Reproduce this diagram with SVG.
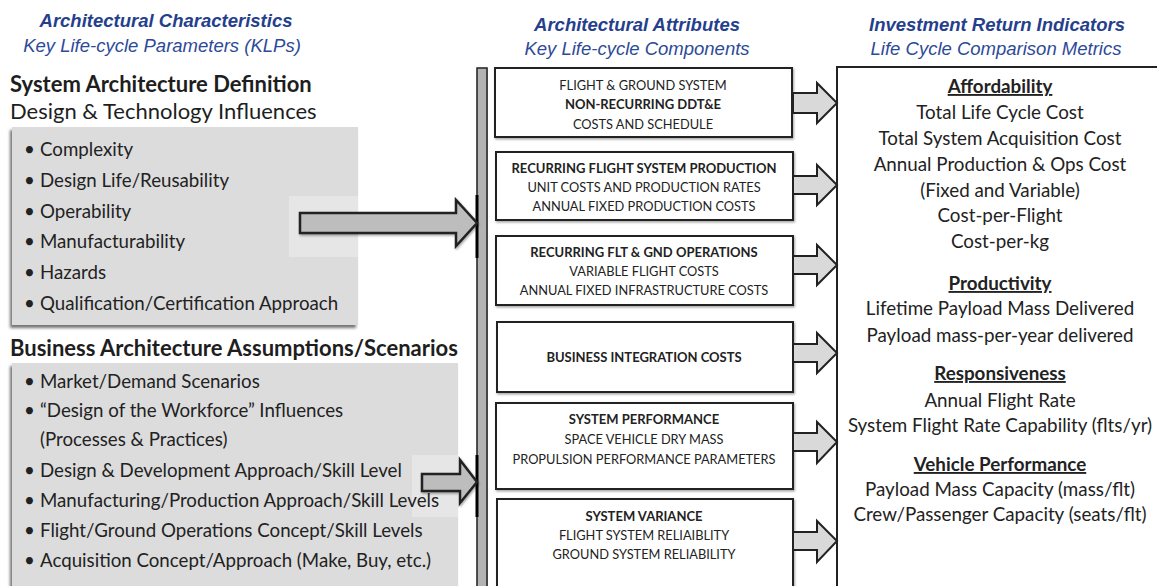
<svg xmlns="http://www.w3.org/2000/svg" width="1157" height="586" viewBox="0 0 1157 586">
<style>
.hb{font-family:"Liberation Sans",Arial,sans-serif;font-size:18.5px;font-weight:bold;font-style:italic;fill:#253f8c;text-anchor:middle}
.hi{font-family:"Liberation Sans",Arial,sans-serif;font-size:18.5px;font-style:italic;fill:#2d4a98;text-anchor:middle}
.sec{font-family:Lato,"Open Sans",sans-serif;font-size:22px;font-weight:bold;fill:#1e1e1e}
.sub{font-family:Lato,"Open Sans",sans-serif;font-size:22px;fill:#1e1e1e}
.bl{font-family:Lato,"Open Sans",sans-serif;font-size:18.7px;fill:#222}
.bx{font-family:Lato,"Open Sans",sans-serif;font-size:12.8px;fill:#222;text-anchor:middle}
.bxb{font-family:Lato,"Open Sans",sans-serif;font-size:13px;font-weight:bold;fill:#222;text-anchor:middle}
.rt{font-family:Lato,"Open Sans",sans-serif;font-size:18.8px;fill:#222;text-anchor:middle}
.rh{font-family:Lato,"Open Sans",sans-serif;font-size:18.8px;font-weight:bold;fill:#222;text-anchor:middle;text-decoration:underline}
.gbox{fill:#dcdcdd}
.node{fill:#fff;stroke:#222;stroke-width:2}
.sarr{fill:#d9d9da;stroke:#222;stroke-width:2;stroke-linejoin:miter}
.barr{fill:#bdbdbe;stroke:#222;stroke-width:2.5;stroke-linejoin:miter}
</style>
<defs>
<filter id="shl" x="-10%" y="-10%" width="120%" height="120%">
<feDropShadow dx="-2" dy="3" stdDeviation="1.5" flood-color="#000" flood-opacity="0.55"/>
</filter>
<filter id="shs" x="-10%" y="-10%" width="120%" height="120%">
<feDropShadow dx="1" dy="1.5" stdDeviation="1" flood-color="#000" flood-opacity="0.35"/>
</filter>
</defs>
<rect width="1157" height="586" fill="#fff"/>

<g id="col1-header">
<text class="hb" x="166" y="27">Architectural Characteristics</text>
<text class="hi" x="162" y="52">Key Life-cycle Parameters (KLPs)</text>
</g>

<g id="system-architecture">
<text class="sec" x="10" y="92">System Architecture Definition</text>
<text class="sub" x="10" y="119">Design &amp; Technology Influences</text>
<rect class="gbox" x="12" y="127" width="346" height="198" filter="url(#shl)"/>
<rect x="289" y="196" width="69" height="61" fill="#e6e6e7"/>
<g class="bl">
<text x="24" y="156">•</text><text x="40" y="156">Complexity</text>
<text x="24" y="187">•</text><text x="40" y="187">Design Life/Reusability</text>
<text x="24" y="218">•</text><text x="40" y="218">Operability</text>
<text x="24" y="248">•</text><text x="40" y="248">Manufacturability</text>
<text x="24" y="279">•</text><text x="40" y="279">Hazards</text>
<text x="24" y="310">•</text><text x="40" y="310">Qualification/Certification Approach</text>
</g>
</g>

<g id="business-architecture">
<text class="sec" x="10" y="356">Business Architecture Assumptions/Scenarios</text>
<rect class="gbox" x="12" y="363" width="446" height="230" filter="url(#shl)"/>
<rect x="412" y="455" width="46" height="62" fill="#e6e6e7"/>
<g class="bl">
<text x="24" y="388">•</text><text x="40" y="388">Market/Demand Scenarios</text>
<text x="24" y="417">•</text><text x="40" y="417">“Design of the Workforce” Influences</text>
<text x="40" y="446">(Processes &amp; Practices)</text>
<text x="24" y="477">•</text><text x="40" y="477">Design &amp; Development Approach/Skill Level</text>
<text x="24" y="507">•</text><text x="40" y="507">Manufacturing/Production Approach/Skill Levels</text>
<text x="24" y="537">•</text><text x="40" y="537">Flight/Ground Operations Concept/Skill Levels</text>
<text x="24" y="567">•</text><text x="40" y="567">Acquisition Concept/Approach (Make, Buy, etc.)</text>
</g>
</g>

<g id="col2-header">
<text class="hb" x="637" y="31">Architectural Attributes</text>
<text class="hi" x="637" y="55">Key Life-cycle Components</text>
</g>

<g id="col3-header">
<text class="hb" x="997" y="31">Investment Return Indicators</text>
<text class="hi" x="996" y="55">Life Cycle Comparison Metrics</text>
</g>

<g id="integration-bar">
<rect x="477" y="68" width="10" height="530" fill="#b3b3b4" stroke="#222" stroke-width="1.5" filter="url(#shs)"/>
<line x1="477" y1="195" x2="477" y2="258" stroke="#000" stroke-width="3"/>
<line x1="477" y1="455" x2="477" y2="517" stroke="#000" stroke-width="3"/>
</g>

<g id="box-nonrecurring">
<rect class="node" x="495" y="68" width="297" height="69" filter="url(#shs)"/>
<text class="bx" x="643" y="90">FLIGHT &amp; GROUND SYSTEM</text>
<text class="bxb" x="643" y="109">NON-RECURRING DDT&amp;E</text>
<text class="bx" x="643" y="129">COSTS AND SCHEDULE</text>
</g>
<g id="box-production">
<rect class="node" x="496" y="152" width="297" height="68" filter="url(#shs)"/>
<text class="bxb" x="644" y="173">RECURRING FLIGHT SYSTEM PRODUCTION</text>
<text class="bx" x="644" y="192">UNIT COSTS AND PRODUCTION RATES</text>
<text class="bx" x="644" y="211">ANNUAL FIXED PRODUCTION COSTS</text>
</g>
<g id="box-operations">
<rect class="node" x="496" y="236" width="297" height="69" filter="url(#shs)"/>
<text class="bxb" x="644" y="257">RECURRING FLT &amp; GND OPERATIONS</text>
<text class="bx" x="644" y="276">VARIABLE FLIGHT COSTS</text>
<text class="bx" x="644" y="295">ANNUAL FIXED INFRASTRUCTURE COSTS</text>
</g>
<g id="box-business">
<rect class="node" x="497" y="322" width="296" height="70" filter="url(#shs)"/>
<text class="bxb" x="644" y="362">BUSINESS INTEGRATION COSTS</text>
</g>
<g id="box-performance">
<rect class="node" x="496" y="403" width="297" height="86" filter="url(#shs)"/>
<text class="bxb" x="644" y="424">SYSTEM PERFORMANCE</text>
<text class="bx" x="644" y="444">SPACE VEHICLE DRY MASS</text>
<text class="bx" x="644" y="464">PROPULSION PERFORMANCE PARAMETERS</text>
</g>
<g id="box-variance">
<rect class="node" x="497" y="499" width="296" height="100" filter="url(#shs)"/>
<text class="bxb" x="644" y="521">SYSTEM VARIANCE</text>
<text class="bx" x="644" y="540">FLIGHT SYSTEM RELIAIBLITY</text>
<text class="bx" x="644" y="559">GROUND SYSTEM RELIABILITY</text>
</g>

<g id="metrics-box">
<path d="M837,590 V67 H1160" fill="none" stroke="#222" stroke-width="2"/>
<text class="rh" x="1000" y="93">Affordability</text>
<text class="rt" x="1000" y="119">Total Life Cycle Cost</text>
<text class="rt" x="1000" y="145">Total System Acquisition Cost</text>
<text class="rt" x="1000" y="171">Annual Production &amp; Ops Cost</text>
<text class="rt" x="1000" y="197">(Fixed and Variable)</text>
<text class="rt" x="1000" y="222">Cost-per-Flight</text>
<text class="rt" x="1000" y="248">Cost-per-kg</text>
<text class="rh" x="1000" y="290">Productivity</text>
<text class="rt" x="1000" y="315">Lifetime Payload Mass Delivered</text>
<text class="rt" x="1000" y="342">Payload mass-per-year delivered</text>
<text class="rh" x="1000" y="380">Responsiveness</text>
<text class="rt" x="1000" y="407">Annual Flight Rate</text>
<text class="rt" x="1000" y="432">System Flight Rate Capability (flts/yr)</text>
<text class="rh" x="1000" y="471">Vehicle Performance</text>
<text class="rt" x="1000" y="496">Payload Mass Capacity (mass/flt)</text>
<text class="rt" x="1000" y="521">Crew/Passenger Capacity (seats/flt)</text>
</g>

<g id="connectors">
<polygon class="barr" points="300,213 456,213 456,200 477,223 456,246 456,233 300,233" filter="url(#shs)"/>
<polygon class="barr" points="422,474 460,474 460,460 477,482 460,503 460,491 422,491" filter="url(#shs)"/>
<polygon class="sarr" points="793,93 817,93 817,83 837,103 817,123 817,113 793,113"/>
<polygon class="sarr" points="793,176 817,176 817,165 837,185 817,205 817,194 793,194"/>
<polygon class="sarr" points="793,256 817,256 817,245 837,265 817,285 817,274 793,274"/>
<polygon class="sarr" points="793,344 817,344 817,333 837,353 817,373 817,362 793,362"/>
<polygon class="sarr" points="793,433 817,433 817,422 837,442 817,463 817,451 793,451"/>
<polygon class="sarr" points="793,532 817,532 817,521 837,541 817,562 817,550 793,550"/>
</g>
</svg>
